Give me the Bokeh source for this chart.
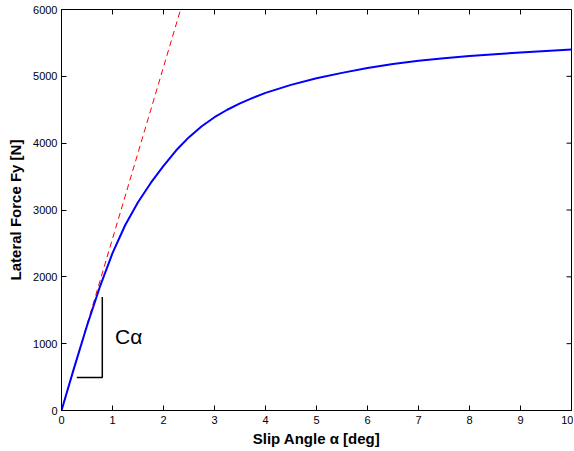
import math
from bokeh.plotting import figure
from bokeh.models import Label, Range1d, FixedTicker
from bokeh.embed import file_html
from bokeh.resources import INLINE

# Data
slip_deg = [0, 0.25, 0.5, 0.75, 1.0, 1.25, 1.5, 1.75, 2.0, 2.25, 2.5, 2.75, 3.0, 3.25,
            3.5, 3.75, 4.0, 4.5, 5.0, 5.5, 6.0, 6.5, 7.0, 7.5, 8.0, 8.5, 9.0, 9.5, 10.0]
lateral_force = [0, 645, 1268, 1845, 2354, 2775, 3116, 3405, 3660, 3893, 4090, 4253, 4388, 4500,
                 4595, 4678, 4752, 4872, 4970, 5052, 5125, 5185, 5232, 5270, 5303, 5331, 5356, 5379, 5400]
tangent_x = [0, 2.335]
tangent_y = [0, 6000]
tri_x = [0.3, 0.8, 0.8]
tri_y = [495, 495, 1700]
x_ticks = [0, 1, 2, 3, 4, 5, 6, 7, 8, 9, 10]
y_ticks = [0, 1000, 2000, 3000, 4000, 5000, 6000]
x_min, x_max = 0, 10
y_min, y_max = 0, 6000

FONT = "Liberation Sans"

p = figure(width=573, height=450, output_backend="svg", toolbar_location=None,
           x_range=Range1d(x_min, x_max), y_range=Range1d(y_min, y_max),
           min_border_left=61, min_border_right=2, min_border_top=9, min_border_bottom=40)
p.background_fill_color = "white"
p.border_fill_color = "white"
p.outline_line_color = "black"
p.outline_line_width = 1
p.grid.visible = False

p.line(tangent_x, tangent_y, line_color="#FF0000", line_width=1, line_dash="6 4")
p.line(slip_deg, lateral_force, line_color="#0000FF", line_width=2)
p.line(tri_x, tri_y, line_color="black", line_width=1.5)

p.add_layout(Label(x=1.05, y=1113, text="C\u03b1", text_font=FONT, text_font_size="21px",
                   text_baseline="middle", text_align="left", text_color="black"))

# inward ticks on the top and right edges (box style)
p.ray(x=x_ticks, y=[y_max] * len(x_ticks), length=5, length_units="screen",
      angle=-math.pi / 2, line_color="black", line_width=1)
p.ray(x=[x_max] * len(y_ticks), y=y_ticks, length=5, length_units="screen",
      angle=math.pi, line_color="black", line_width=1)

for ax, ticks in ((p.xaxis[0], x_ticks), (p.yaxis[0], y_ticks)):
    ax.ticker = FixedTicker(ticks=ticks)
    ax.minor_tick_line_color = None
    ax.major_tick_in = 5
    ax.major_tick_out = 0
    ax.axis_line_color = "black"
    ax.axis_line_width = 1
    ax.major_tick_line_color = "black"
    ax.major_label_text_font = FONT
    ax.major_label_text_font_size = "11px"
    ax.major_label_text_color = "black"
    ax.axis_label_text_font = FONT
    ax.axis_label_text_font_style = "bold"
    ax.axis_label_text_font_size = "15px"
    ax.axis_label_text_color = "black"

p.xaxis[0].major_label_standoff = 5
p.yaxis[0].major_label_standoff = 4
p.xaxis[0].axis_label_standoff = 3
p.yaxis[0].axis_label_standoff = 6
p.xaxis[0].axis_label = "Slip Angle \u03b1 [deg]"
p.yaxis[0].axis_label = "Lateral Force Fy [N]"

open("out.html", "w").write(file_html(p, INLINE))
